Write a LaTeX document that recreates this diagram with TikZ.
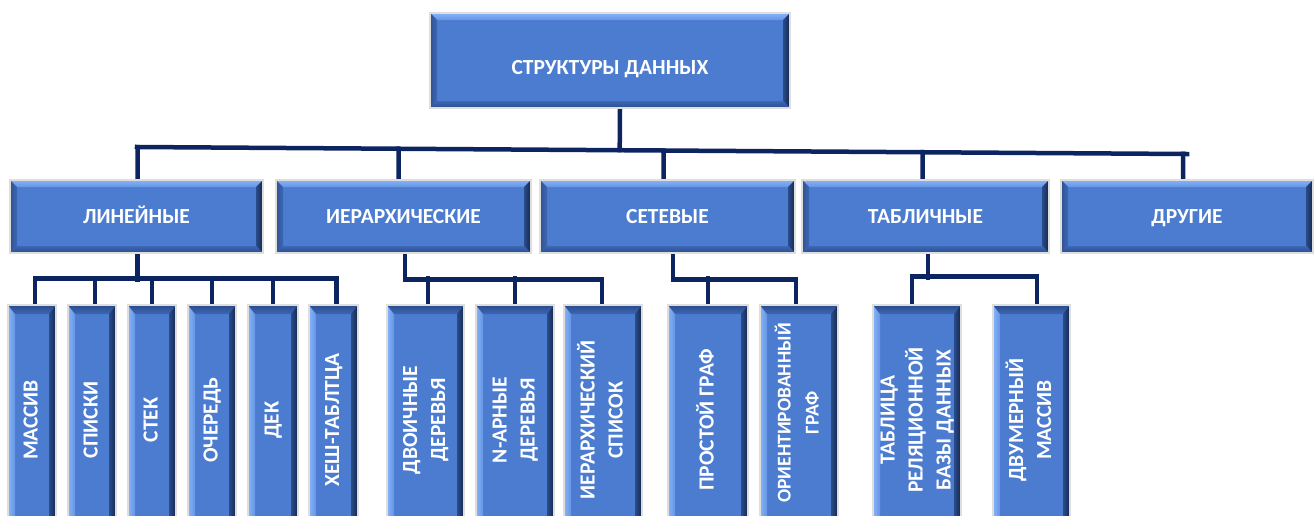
\documentclass[tikz,border=0pt]{standalone}
\usepackage{fontspec}
\setmainfont{Carlito}
\usetikzlibrary{calc}

\definecolor{face}{HTML}{4B7CD0}
\definecolor{lite}{HTML}{86B3FA}
\definecolor{midd}{HTML}{3D67B5}
\definecolor{deep}{HTML}{2A4C8C}
\definecolor{darkest}{HTML}{14264A}
\definecolor{navy}{HTML}{0C2561}

\pgfdeclarelayer{bg}
\pgfsetlayers{bg,main}

% rotated, centred multi-line label for the upright boxes;
% the optional argument pushes the label up by half its value
\newcommand\uptext[2][0pt]{\rotatebox{90}{\hspace*{#1}\begin{tabular}{@{}c@{}}#2\end{tabular}}}

\tikzset{
  bevelH/.style={path picture={
    \path (path picture bounding box.north west) coordinate (bnw)
          (path picture bounding box.north east) coordinate (bne)
          (path picture bounding box.south west) coordinate (bsw)
          (path picture bounding box.south east) coordinate (bse);
    \shade[top color=lite, bottom color=face!55!lite]
      (bnw) -- (bne) -- ($(bne)+(-7,7)$) -- ($(bnw)+(7,7)$) -- cycle;
    \shade[left color=midd!80!black, right color=midd]
      (bnw) -- ($(bnw)+(7,7)$) -- ($(bsw)+(7,-7)$) -- (bsw) -- cycle;
    \shade[left color=deep, right color=darkest]
      (bne) -- (bse) -- ($(bse)+(-7,-7)$) -- ($(bne)+(-7,7)$) -- cycle;
    \shade[top color=midd, bottom color=deep]
      (bsw) -- ($(bsw)+(7,-7)$) -- ($(bse)+(-7,-7)$) -- (bse) -- cycle;
  }},
  bevelV/.style={path picture={
    \path (path picture bounding box.north west) coordinate (bnw)
          (path picture bounding box.north east) coordinate (bne)
          (path picture bounding box.south west) coordinate (bsw)
          (path picture bounding box.south east) coordinate (bse);
    \shade[left color=lite, right color=face!55!lite]
      (bnw) -- ($(bnw)+(7,7)$) -- ($(bsw)+(7,-7)$) -- (bsw) -- cycle;
    \shade[top color=deep, bottom color=midd]
      (bnw) -- (bne) -- ($(bne)+(-7,9)$) -- ($(bnw)+(7,9)$) -- cycle;
    \shade[left color=deep, right color=darkest]
      (bne) -- (bse) -- ($(bse)+(-7,-7)$) -- ($(bne)+(-7,9)$) -- cycle;
  }},
  box/.style={draw=black!13, line width=1.3pt, fill=face, inner sep=0pt,
    text=white, align=center,
    font=\fontsize{21.5}{28}\selectfont\bfseries},
  hbox/.style={box, bevelH, text height=13.6pt, text depth=0pt},
  vbox/.style={box, bevelV, minimum height=230},
  conn/.style={draw=navy, line width=4.5pt, line cap=rect, line join=miter},
}

\begin{document}
\begin{tikzpicture}[x=1pt, y=-1pt]
  \clip (0,0) rectangle (1315,515);
  \useasboundingbox (0,0) rectangle (1315,515);

  % root
  \node[hbox, minimum width=360, minimum height=95, text height=27.5pt]
    (root) at (610,60.5) {СТРУКТУРЫ ДАННЫХ};

  % second level
  \node[hbox, minimum width=253, minimum height=73] (lin)  at (136.5,216.5) {ЛИНЕЙНЫЕ};
  \node[hbox, minimum width=255, minimum height=73] (hier) at (403.5,216.5) {ИЕРАРХИЧЕСКИЕ};
  \node[hbox, minimum width=255, minimum height=73] (net)  at (667.5,216.5) {СЕТЕВЫЕ};
  \node[hbox, minimum width=247, minimum height=73] (tab)  at (925.5,216.5) {ТАБЛИЧНЫЕ};
  \node[hbox, minimum width=252, minimum height=73] (oth)  at (1187,216.5) {ДРУГИЕ};

  % third level: linear
  \node[vbox, minimum width=48] (m1) at (32,420)    {\uptext{МАССИВ}};
  \node[vbox, minimum width=48] (m2) at (92,420)    {\uptext{СПИСКИ}};
  \node[vbox, minimum width=48] (m3) at (152,420)   {\uptext{СТЕК}};
  \node[vbox, minimum width=48] (m4) at (212,420)   {\uptext{ОЧЕРЕДЬ}};
  \node[vbox, minimum width=50] (m5) at (273,420)   {\uptext{ДЕК}};
  \node[vbox, minimum width=49] (m6) at (333.5,420) {\uptext{ХЕШ-ТАБЛТЦА}};
  % hierarchical
  \node[vbox, minimum width=77] (h1) at (425.5,420) {\uptext{ДВОИЧНЫЕ\\ДЕРЕВЬЯ}};
  \node[vbox, minimum width=78] (h2) at (515,420)   {\uptext{N-АРНЫЕ\\ДЕРЕВЬЯ}};
  \node[vbox, minimum width=78] (h3) at (603,420)   {\uptext{ИЕРАРХИЧЕСКИЙ\\СПИСОК}};
  % network
  \node[vbox, minimum width=80] (n1) at (708,420)   {\uptext{ПРОСТОЙ ГРАФ}};
  \node[vbox, minimum width=78] (n2) at (799,420)
    {\fontsize{19.5}{28}\selectfont\uptext[14pt]{ОРИЕНТИРОВАННЫЙ\\ГРАФ}};
  % tabular
  \node[vbox, minimum width=88] (t1) at (917,420)    {\uptext{ТАБЛИЦА\\РЕЛЯЦИОННОЙ\\БАЗЫ ДАННЫХ}};
  \node[vbox, minimum width=77] (t2) at (1031.5,420) {\uptext{ДВУМЕРНЫЙ\\МАССИВ}};

  \begin{pgfonlayer}{bg}
    % main bus
    \coordinate (busL) at (137,147);
    \coordinate (busR) at (1187,154);
    \draw[conn] (busL) -- (busR);
    \draw[conn] ([xshift=10]root.south) -- ($(busL)!([xshift=10]root.south)!(busR)$);
    \draw[conn] ([xshift=1]lin.north)   -- ($(busL)!([xshift=1]lin.north)!(busR)$);
    \draw[conn] ([xshift=-5]hier.north) -- ($(busL)!([xshift=-5]hier.north)!(busR)$);
    \draw[conn] ([xshift=-4]net.north)  -- ($(busL)!([xshift=-4]net.north)!(busR)$);
    \draw[conn] ([xshift=-3]tab.north)  -- ($(busL)!([xshift=-3]tab.north)!(busR)$);
    \draw[conn] ([xshift=-4]oth.north)  -- ($(busL)!([xshift=-4]oth.north)!(busR)$);

    % linear group
    \draw[conn] ([xshift=3]m1.north) -- ++(0,-26) -| ([xshift=3]m6.north);
    \draw[conn] ([xshift=1]lin.south) -- ++(0,26);
    \draw[conn] ([xshift=3]m2.north) -- ++(0,-26);
    \draw[conn] (m3.north) -- ++(0,-26);
    \draw[conn] (m4.north) -- ++(0,-26);
    \draw[conn] (m5.north) -- ++(0,-26);

    % hierarchical group
    \draw[conn] ([xshift=1.5]hier.south) -- ++(0,26) -| ([xshift=-1]h3.north);
    \draw[conn] ([xshift=2.5]h1.north) -- ++(0,-26);
    \draw[conn] (h2.north) -- ++(0,-26);

    % network group
    \draw[conn] ([xshift=5.5]net.south) -- ++(0,26) -| ([xshift=-3]n2.north);
    \draw[conn] (n1.north) -- ++(0,-26);

    % tabular group
    \draw[conn] ([xshift=-5]t1.north) -- ++(0,-28) -| ([xshift=5.5]t2.north);
    \draw[conn] ([xshift=2.5]tab.south) -- ++(0,24);
  \end{pgfonlayer}
\end{tikzpicture}
\end{document}
